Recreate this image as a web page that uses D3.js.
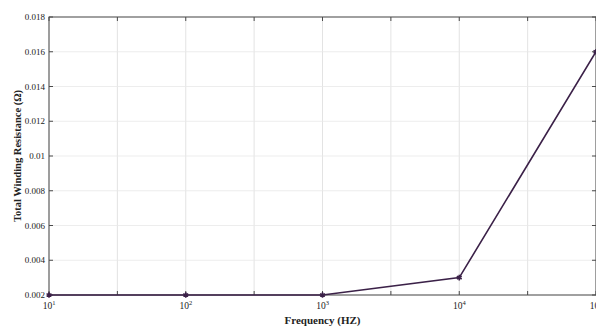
<!DOCTYPE html>
<html>
<head>
<meta charset="utf-8">
<script src="https://cdn.jsdelivr.net/npm/d3@7"></script>
<style>
  html, body { margin: 0; padding: 0; background: #fff; }
  svg { display: block; }
  text { font-family: "Liberation Serif", "DejaVu Serif", serif; }
</style>
</head>
<body>
<svg id="chart" width="596" height="327"></svg>
<script>
// Frequency sweep (Hz) and total winding resistance (ohm)
const frequencies = [10, 100, 1000, 10000, 100000];
const resistance = [0.002, 0.002, 0.002, 0.003, 0.016];

// Axis ticks
const xMajorTicks = [10, 100, 1000, 10000, 100000];
const xMinorTicks = [31.6228, 316.228, 3162.28, 31622.8];
const yTicks = [0.002, 0.004, 0.006, 0.008, 0.01, 0.012, 0.014, 0.016, 0.018];
const yTickLabels = ["0.002", "0.004", "0.006", "0.008", "0.01", "0.012", "0.014", "0.016", "0.018"];

const xLabel = "Frequency (HZ)";
const yLabel = "Total Winding Resistance (Ω)";

const svg = d3.select("#chart");
const margin = { left: 49, right: 0, top: 17, bottom: 32 };
const W = 596, H = 327;
const plotW = 547, plotH = H - margin.top - margin.bottom;

const x = d3.scaleLog().domain([10, 100000]).range([margin.left, margin.left + plotW]);
const y = d3.scaleLinear().domain([0.002, 0.018]).range([margin.top + plotH, margin.top]);

const allX = xMajorTicks.concat(xMinorTicks);
const g = svg.append("g");

// grid
g.selectAll(".vgrid").data(allX).join("line")
  .attr("x1", d => x(d)).attr("x2", d => x(d))
  .attr("y1", y(0.018)).attr("y2", y(0.002))
  .attr("stroke", "#dcdcdc").attr("stroke-width", 0.8);
g.selectAll(".hgrid").data(yTicks).join("line")
  .attr("x1", x(10)).attr("x2", x(100000))
  .attr("y1", d => y(d)).attr("y2", d => y(d))
  .attr("stroke", "#e8e8e8").attr("stroke-width", 0.8);

// box
const axisColor = "#4a4a4a";
g.append("rect")
  .attr("x", x(10)).attr("y", y(0.018))
  .attr("width", x(100000) - x(10)).attr("height", y(0.002) - y(0.018))
  .attr("fill", "none").attr("stroke", axisColor).attr("stroke-width", 1);

// tick marks (inside, on all four sides)
const tl = 4;
g.selectAll(".xtb").data(allX).join("line")
  .attr("x1", d => x(d)).attr("x2", d => x(d))
  .attr("y1", y(0.002)).attr("y2", y(0.002) - tl)
  .attr("stroke", axisColor);
g.selectAll(".xtt").data(allX).join("line")
  .attr("x1", d => x(d)).attr("x2", d => x(d))
  .attr("y1", y(0.018)).attr("y2", y(0.018) + tl)
  .attr("stroke", axisColor);
g.selectAll(".ytl").data(yTicks).join("line")
  .attr("x1", x(10)).attr("x2", x(10) + tl)
  .attr("y1", d => y(d)).attr("y2", d => y(d))
  .attr("stroke", axisColor);
g.selectAll(".ytr").data(yTicks).join("line")
  .attr("x1", x(100000)).attr("x2", x(100000) - tl)
  .attr("y1", d => y(d)).attr("y2", d => y(d))
  .attr("stroke", axisColor);

// y tick labels
g.selectAll(".ylab").data(yTicks).join("text")
  .attr("x", x(10) - 4).attr("y", d => y(d) + 3)
  .attr("text-anchor", "end").attr("font-size", 9).attr("fill", "#222")
  .text((d, i) => yTickLabels[i]);

// x tick labels: 10 with superscript exponent
const xl = g.selectAll(".xlab").data(xMajorTicks).join("text")
  .attr("x", d => x(d)).attr("y", y(0.002) + 14)
  .attr("text-anchor", "middle").attr("font-size", 9.5).attr("fill", "#222");
xl.append("tspan").text("10");
xl.append("tspan").attr("dy", -4).attr("font-size", 6.5)
  .text(d => Math.round(Math.log10(d)));

// axis titles
g.append("text")
  .attr("x", x(1000)).attr("y", 324)
  .attr("text-anchor", "middle").attr("font-size", 11).attr("font-weight", "bold")
  .attr("fill", "#222").text(xLabel);
g.append("text")
  .attr("transform", `translate(21,${(y(0.002) + y(0.018)) / 2}) rotate(-90)`)
  .attr("text-anchor", "middle").attr("font-size", 10.5).attr("font-weight", "bold")
  .attr("fill", "#222").text(yLabel);

// data line and markers
const data = frequencies.map((f, i) => ({ f, r: resistance[i] }));
const lineColor = "#3b2148";
g.append("path").datum(data)
  .attr("fill", "none").attr("stroke", lineColor).attr("stroke-width", 1.6)
  .attr("d", d3.line().x(d => x(d.f)).y(d => y(d.r)));
g.selectAll(".mk").data(data).join("path")
  .attr("transform", d => `translate(${x(d.f)},${y(d.r)})`)
  .attr("d", d3.symbol(d3.symbolAsterisk, 22))
  .attr("fill", "none").attr("stroke", lineColor).attr("stroke-width", 1.6);
</script>
</body>
</html>
